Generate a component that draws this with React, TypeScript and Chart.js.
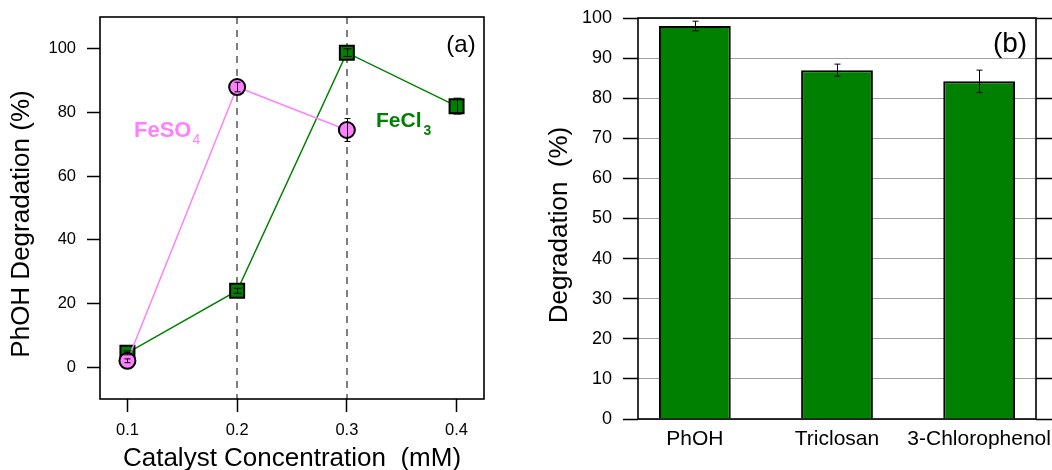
import React, { useEffect, useRef } from "react";
import { Chart, registerables } from "chart.js";

Chart.register(...registerables);

// ---------- Panel (a) data ----------
const feso4Conc = [0.1, 0.2, 0.3];
const feso4Values = [2, 88, 74.5];
const feso4Errors = [0.6, 1.5, 3.6];
const fecl3Conc = [0.1, 0.2, 0.3, 0.4];
const fecl3Values = [4.5, 24, 98.8, 82];
const fecl3Errors = [0.6, 0.8, 1.2, 2.5];
const xTicksA = [0.1, 0.2, 0.3, 0.4];
const yTicksA = [0, 20, 40, 60, 80, 100];
const refLinesA = [0.2, 0.3];

// ---------- Panel (b) data ----------
const compounds = ["PhOH", "Triclosan", "3-Chlorophenol"];
const degradation = [98, 87, 84.2];
const degradationErr = [1.2, 1.5, 2.8];
const yTicksB = [0, 10, 20, 30, 40, 50, 60, 70, 80, 90, 100];

const FONT = '"Liberation Sans", Arial, Helvetica, sans-serif';
const PINK = "#ff80ff";
const GREEN = "#008000";

const errorBarPlugin = {
  id: "errorBars",
  afterDatasetsDraw(chart: any) {
    const ctx = chart.ctx;
    chart.data.datasets.forEach((ds: any, i: number) => {
      if (!ds.errors) return;
      const meta = chart.getDatasetMeta(i);
      const yScale = chart.scales[meta.yAxisID];
      const cw = ds.errorCap ?? 4;
      ctx.save();
      ctx.strokeStyle = "#000";
      ctx.lineWidth = 1;
      meta.data.forEach((el: any, j: number) => {
        const raw = ds.data[j];
        const v = typeof raw === "number" ? raw : raw.y;
        const e = ds.errors[j];
        const x = Math.round(el.x) + 0.5;
        const y1 = yScale.getPixelForValue(v + e);
        const y2 = yScale.getPixelForValue(v - e);
        ctx.beginPath();
        ctx.moveTo(x, y1);
        ctx.lineTo(x, y2);
        ctx.moveTo(x - cw, y1);
        ctx.lineTo(x + cw, y1);
        ctx.moveTo(x - cw, y2);
        ctx.lineTo(x + cw, y2);
        ctx.stroke();
      });
      ctx.restore();
    });
  },
};

const framePlugin = {
  id: "frame",
  afterDraw(chart: any) {
    const { left, top, right, bottom } = chart.chartArea;
    const ctx = chart.ctx;
    ctx.save();
    ctx.strokeStyle = "#000";
    ctx.lineWidth = 1.6;
    ctx.strokeRect(left, top, right - left, bottom - top);
    ctx.restore();
  },
};

const refLinePlugin = {
  id: "refLines",
  beforeDatasetsDraw(chart: any) {
    const ctx = chart.ctx;
    const xs = chart.scales.x;
    const { top, bottom } = chart.chartArea;
    ctx.save();
    ctx.strokeStyle = "#808080";
    ctx.lineWidth = 2;
    ctx.setLineDash([7, 6]);
    refLinesA.forEach((v) => {
      const x = Math.round(xs.getPixelForValue(v));
      ctx.beginPath();
      ctx.moveTo(x, top);
      ctx.lineTo(x, bottom);
      ctx.stroke();
    });
    ctx.restore();
  },
};

function drawVerticalTitle(ctx: any, text: string, x: number, y: number) {
  ctx.save();
  ctx.translate(x, y);
  ctx.rotate(-Math.PI / 2);
  ctx.fillStyle = "#000";
  ctx.font = `26px ${FONT}`;
  ctx.textAlign = "center";
  ctx.textBaseline = "middle";
  ctx.fillText(text, 0, 0);
  ctx.restore();
}

const labelsAPlugin = {
  id: "labelsA",
  afterDraw(chart: any) {
    const ctx = chart.ctx;
    ctx.save();
    ctx.textBaseline = "alphabetic";
    ctx.textAlign = "left";
    // FeSO4
    ctx.fillStyle = PINK;
    ctx.font = `bold 22px ${FONT}`;
    ctx.fillText("FeSO", 134, 137);
    const w1 = ctx.measureText("FeSO").width;
    ctx.font = `14px ${FONT}`;
    ctx.fillText("4", 134 + w1 + 1, 144);
    // FeCl3
    ctx.fillStyle = GREEN;
    ctx.font = `bold 21px ${FONT}`;
    ctx.fillText("FeCl", 376, 127);
    const w2 = ctx.measureText("FeCl").width;
    ctx.font = `bold 14px ${FONT}`;
    ctx.fillText("3", 376 + w2 + 2, 135);
    // (a)
    ctx.fillStyle = "#000";
    ctx.font = `24px ${FONT}`;
    ctx.textAlign = "center";
    ctx.textBaseline = "middle";
    ctx.fillText("(a)", 461, 45);
    ctx.restore();
    drawVerticalTitle(ctx, "PhOH Degradation (%)", 22, 224);
  },
};

const labelsBPlugin = {
  id: "labelsB",
  afterDraw(chart: any) {
    const ctx = chart.ctx;
    ctx.save();
    ctx.fillStyle = "#000";
    ctx.font = `28px ${FONT}`;
    ctx.textAlign = "center";
    ctx.textBaseline = "middle";
    ctx.fillText("(b)", 480, 44);
    ctx.restore();
    drawVerticalTitle(ctx, "Degradation  (%)", 30, 225);
  },
};

export default function App() {
  const leftRef = useRef<HTMLCanvasElement>(null);
  const rightRef = useRef<HTMLCanvasElement>(null);

  useEffect(() => {
    const chartA = new Chart(leftRef.current as HTMLCanvasElement, {
      type: "line",
      data: {
        datasets: [
          {
            label: "FeSO4",
            data: feso4Conc.map((x, i) => ({ x, y: feso4Values[i] })),
            errors: feso4Errors,
            errorCap: 3,
            borderColor: PINK,
            backgroundColor: PINK,
            borderWidth: 1.5,
            pointStyle: "circle",
            pointRadius: 8,
            pointBackgroundColor: PINK,
            pointBorderColor: "#000",
            pointBorderWidth: 2,
          } as any,
          {
            label: "FeCl3",
            data: fecl3Conc.map((x, i) => ({ x, y: fecl3Values[i] })),
            errors: fecl3Errors,
            errorCap: 4,
            borderColor: GREEN,
            backgroundColor: GREEN,
            borderWidth: 1.5,
            pointStyle: "rect",
            pointRadius: 9.9,
            pointBackgroundColor: GREEN,
            pointBorderColor: "#000",
            pointBorderWidth: 2,
          } as any,
        ],
      },
      options: {
        animation: false,
        responsive: false,
        devicePixelRatio: 1,
        layout: { padding: { left: 0, top: 17, right: 36, bottom: 0 } },
        plugins: { legend: { display: false }, tooltip: { enabled: false } },
        scales: {
          x: {
            type: "linear",
            min: 0.075,
            max: 0.425,
            afterBuildTicks: (s: any) => {
              s.ticks = xTicksA.map((v) => ({ value: v }));
            },
            afterFit: (s: any) => {
              s.height = 71;
              s.paddingLeft = 0;
              s.paddingRight = 0;
            },
            grid: { drawOnChartArea: false, tickLength: 13, tickColor: "#000", tickWidth: 1.5 },
            border: { display: false },
            ticks: {
              color: "#000",
              font: { family: FONT, size: 16.5 },
              padding: 9,
              maxRotation: 0,
              callback: (v: any) => Number(v).toFixed(1),
            },
            title: {
              display: true,
              text: "Catalyst Concentration  (mM)",
              color: "#000",
              font: { family: FONT, size: 26, lineHeight: 0.85 },
              padding: { top: 0, bottom: 0 },
            },
          },
          y: {
            type: "linear",
            min: -10,
            max: 110,
            afterBuildTicks: (s: any) => {
              s.ticks = yTicksA.map((v) => ({ value: v }));
            },
            afterFit: (s: any) => {
              s.width = 100;
              s.paddingTop = 0;
              s.paddingBottom = 0;
            },
            grid: { drawOnChartArea: false, tickLength: 13, tickColor: "#000", tickWidth: 1.5 },
            border: { display: false },
            ticks: {
              color: "#000",
              font: { family: FONT, size: 16.5 },
              padding: 11,
            },
          },
        },
      },
      plugins: [refLinePlugin, errorBarPlugin, framePlugin, labelsAPlugin],
    } as any);

    const chartB = new Chart(rightRef.current as HTMLCanvasElement, {
      type: "bar",
      data: {
        datasets: [
          {
            label: "Degradation",
            data: compounds.map((_, i) => ({ x: i, y: degradation[i] })),
            errors: degradationErr,
            errorCap: 3,
            backgroundColor: GREEN,
            borderColor: "#000",
            borderWidth: 2,
            barPercentage: 0.505,
            categoryPercentage: 1,
          } as any,
        ],
      },
      options: {
        animation: false,
        responsive: false,
        devicePixelRatio: 1,
        layout: { padding: { left: 0, top: 18, right: 16, bottom: 0 } },
        plugins: { legend: { display: false }, tooltip: { enabled: false } },
        scales: {
          x: {
            type: "linear",
            offset: false,
            min: -0.4,
            max: 2.4,
            afterBuildTicks: (s: any) => {
              s.ticks = compounds.map((_, i) => ({ value: i }));
            },
            afterFit: (s: any) => {
              s.height = 51;
              s.paddingLeft = 0;
              s.paddingRight = 0;
            },
            grid: { display: false, drawTicks: false, offset: false },
            border: { display: false },
            ticks: {
              color: "#000",
              font: { family: FONT, size: 21 },
              padding: 8,
              maxRotation: 0,
              autoSkip: false,
              callback: (v: any) => compounds[Math.round(Number(v))] ?? "",
            },
          },
          y: {
            type: "linear",
            min: 0,
            max: 100,
            afterBuildTicks: (s: any) => {
              s.ticks = yTicksB.map((v) => ({ value: v }));
            },
            afterFit: (s: any) => {
              s.width = 108;
              s.paddingTop = 0;
              s.paddingBottom = 0;
            },
            grid: { color: "#a0a0a0", lineWidth: 1, tickLength: 15, tickColor: "#000", tickWidth: 1.5 },
            border: { display: false },
            ticks: {
              color: "#000",
              font: { family: FONT, size: 18 },
              padding: 11,
            },
          },
          y2: {
            type: "linear",
            position: "right",
            min: 0,
            max: 100,
            afterBuildTicks: (s: any) => {
              s.ticks = yTicksB.map((v) => ({ value: v }));
            },
            afterFit: (s: any) => {
              s.width = 0;
              s.paddingTop = 0;
              s.paddingBottom = 0;
            },
            grid: { drawOnChartArea: false, tickLength: 16, tickColor: "#000", tickWidth: 1.5 },
            border: { display: false },
            ticks: { display: false },
          },
        },
      },
      plugins: [errorBarPlugin, framePlugin, labelsBPlugin],
    } as any);

    return () => {
      chartA.destroy();
      chartB.destroy();
    };
  }, []);

  return (
    <div
      style={{
        position: "absolute",
        left: 0,
        top: 0,
        width: 1052,
        height: 470,
        background: "#fff",
        overflow: "hidden",
      }}
    >
      <canvas
        ref={leftRef}
        width={520}
        height={470}
        style={{ position: "absolute", left: 0, top: 0, width: 520, height: 470 }}
      />
      <canvas
        ref={rightRef}
        width={522}
        height={470}
        style={{ position: "absolute", left: 530, top: 0, width: 522, height: 470 }}
      />
    </div>
  );
}
